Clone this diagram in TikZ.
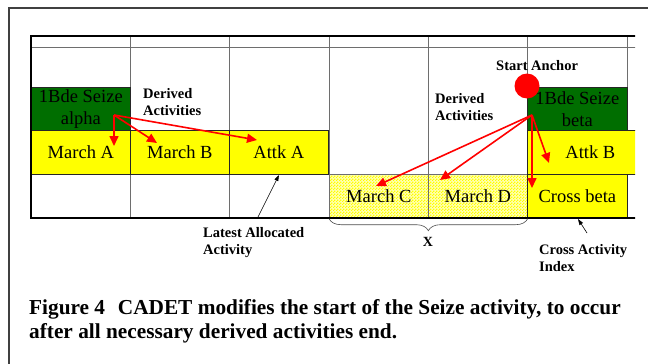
\documentclass[tikz,border=0pt]{standalone}
\usepackage{fontspec}
\setmainfont{Liberation Serif}
\usetikzlibrary{arrows.meta,patterns,decorations.pathreplacing}
\definecolor{gcol}{RGB}{0,110,0}
\definecolor{ycol}{RGB}{255,255,0}
\definecolor{gridc}{RGB}{110,110,110}
\pgfdeclarepatternformonly{finechecker}{\pgfpointorigin}{\pgfqpoint{3pt}{3pt}}{\pgfqpoint{3pt}{3pt}}{%
  \pgfpathrectangle{\pgfpointorigin}{\pgfqpoint{1.5pt}{1.5pt}}%
  \pgfpathrectangle{\pgfqpoint{1.5pt}{1.5pt}}{\pgfqpoint{1.5pt}{1.5pt}}%
  \pgfusepath{fill}}
\begin{document}
\begin{tikzpicture}[x=1pt,y=-1pt,
  cell/.style={draw=black!85, line width=0.7pt, minimum width=99pt, minimum height=43.5pt,
    inner sep=0pt, anchor=north west, align=center, font=\fontsize{18.5}{21.5}\selectfont},
  gcell/.style={cell, fill=gcol},
  ycell/.style={cell, fill=ycol},
  chk/.style={cell, draw=gridc, preaction={fill=ycol!30!white}, pattern=finechecker, pattern color=ycol},
  lbl/.style={inner sep=0pt, anchor=north west, align=left, font=\fontsize{14.5}{17}\selectfont\bfseries},
  redarrow/.style={draw=red, line width=1.6pt, -{Triangle[length=10pt,width=9pt]}},
  thinarrow/.style={draw=black, line width=0.6pt, -{Triangle[length=6pt,width=4pt]}},
  gridline/.style={draw=gridc, line width=0.7pt},
  thick/.style={draw=black, line width=2pt}]
\useasboundingbox (0,0) rectangle (648,364);
% outer frame
\draw[draw=black!75, line width=1.5pt] (9,366) -- (9,8) -- (650,8);
\begin{scope}
\clip (0,0) rectangle (635,364);
% grid
\foreach \x in {130,229,329,428,527,627} \draw[gridline] (\x,36) -- (\x,218);
\draw[gridline] (31,47) -- (640,47);
% cells
\node[gcell] (alpha) at (31,87) {1Bde Seize\\alpha};
\node[ycell, minimum height=44pt] (marchA) at (31,130) {March A};
\node[ycell, minimum height=44pt] (marchB) at (130,130) {March B};
\node[ycell, minimum height=44pt] (attkA) at (229,130) {Attk A};
\node[chk, minimum height=44pt] (marchC) at (329,174) {March C};
\node[chk, minimum height=44pt] (marchD) at (428,174) {March D};
\node[gcell, minimum width=100pt] (beta) at (527,87) {1Bde Seize\\beta};
\node[ycell, minimum width=126pt, minimum height=44pt] (attkB) at (527,130) {Attk B};
\node[ycell, minimum width=100pt, minimum height=44pt] (crossB) at (527,174) {Cross beta};
% heavy rules
\draw[thick] (31,36) -- (640,36);
\draw[thick] (31,218) -- (640,218);
\draw[draw=black, line width=1.5pt] (31,35) -- (31,219);
\end{scope}
% brace
\draw[draw=black!70, line width=0.6pt, decorate, decoration={brace, mirror, amplitude=12pt}] (marchC.south west) -- (marchD.south east);
\node[inner sep=0pt, font=\fontsize{14}{16}\selectfont\bfseries] (xlab) at (428,242) {X};
% start anchor
\node[circle, fill=red, minimum size=25pt, inner sep=0pt] (anchor) at (527,86) {};
\node[lbl] (startlbl) at (496,60) {Start Anchor};
% labels
\node[lbl] (der1) at (143,88) {Derived\\Activities};
\node[lbl] (der2) at (435,93) {Derived\\Activities};
\node[lbl] (latest) at (203,227) {Latest Allocated\\Activity};
\node[lbl] (crossidx) at (539,244) {Cross Activity\\Index};
% caption
\node[inner sep=0pt, anchor=north west, align=left, font=\fontsize{21.3}{24}\selectfont\bfseries] (caption) at (29,299)
  {Figure 4\hspace{0.6em}CADET modifies the start of the Seize activity, to occur\\after all necessary derived activities end.};
% red arrows
\coordinate (s1) at (114,115);
\coordinate (t1a) at (114,146);
\coordinate (t1b) at (157,143);
\coordinate (t1c) at (257,140);
\draw[redarrow] (s1) -- (t1a);
\draw[redarrow] (s1) -- (t1b);
\draw[redarrow] (s1) -- (t1c);
\coordinate (s2) at (532,115);
\coordinate (t2a) at (376,186);
\coordinate (t2b) at (440,180);
\coordinate (t2c) at (549,163);
\coordinate (t2d) at (532,188);
\draw[redarrow] (s2) -- (t2a);
\draw[redarrow] (s2) -- (t2b);
\draw[redarrow] (s2) -- (t2c);
\draw[redarrow] (s2) -- (t2d);
% thin arrows
\coordinate (la) at (258,217);
\coordinate (lb) at (279,175);
\draw[thinarrow] (la) -- (lb);
\coordinate (ca) at (587,233);
\coordinate (cb) at (578,219);
\draw[thinarrow] (ca) -- (cb);
\end{tikzpicture}
\end{document}
